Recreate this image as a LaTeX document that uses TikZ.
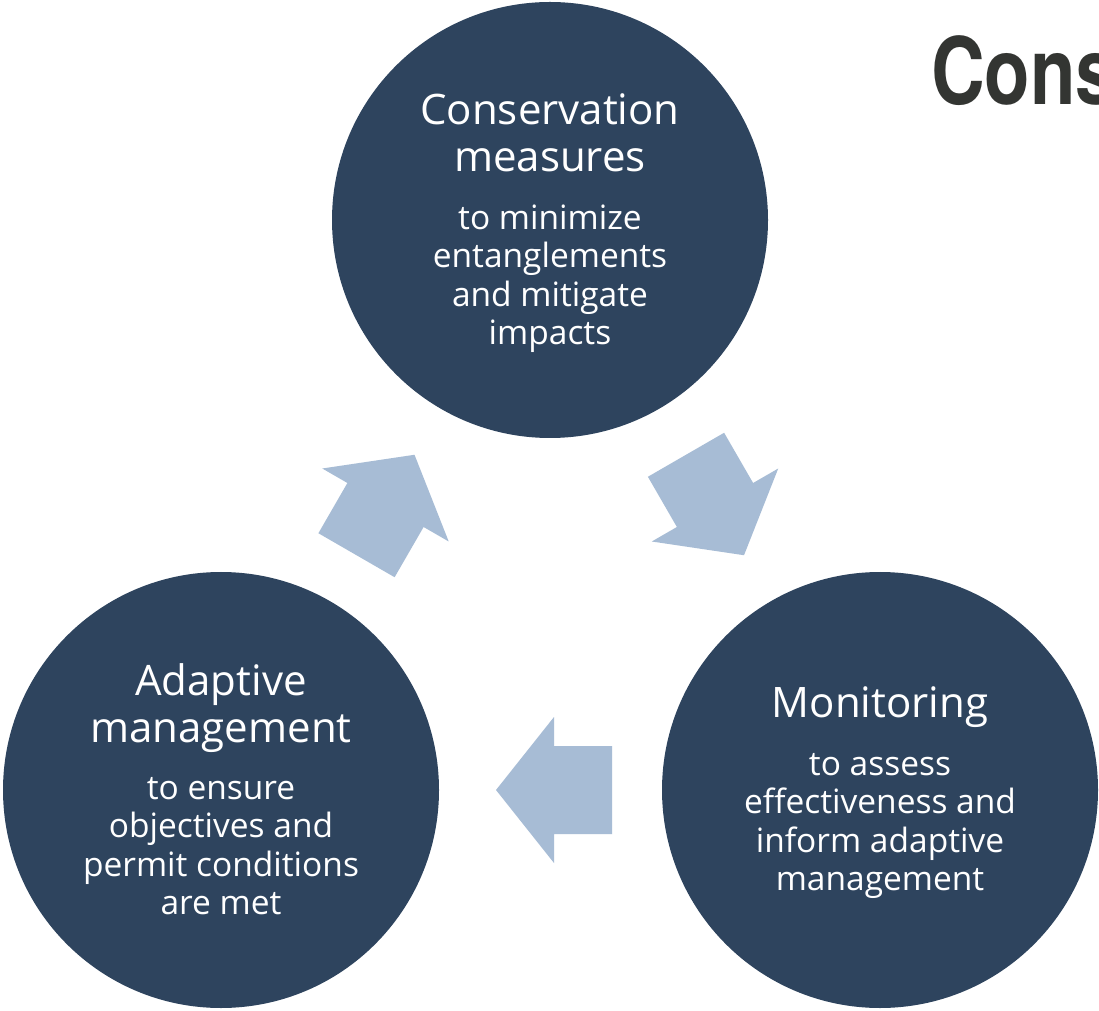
\documentclass[tikz,border=0pt]{standalone}
\usepackage{fontspec}
\setmainfont{Open Sans}
\newfontfamily\headfont{TeX Gyre Heros}
\usetikzlibrary{calc}
\definecolor{navy}{RGB}{46,68,94}
\definecolor{arrowblue}{RGB}{167,188,213}
\definecolor{headgrey}{RGB}{51,53,50}
\begin{document}
\begin{tikzpicture}[x=1pt,y=1pt,
  circ/.style={circle, fill=navy, minimum size=436pt, inner sep=0pt},
  ttl/.style={anchor=base, text=white, inner sep=0pt, font=\fontsize{42}{47}\selectfont},
  bdy/.style={anchor=base, text=white, inner sep=0pt, font=\fontsize{33.5}{38.3}\selectfont},
  blockarrow/.pic={\fill[arrowblue] (58,0) -- (0,73) -- (0,44) -- (-58,44) -- (-58,-44) -- (0,-44) -- (0,-73) -- cycle;}
]
\clip (0,0) rectangle (1099,1010);
\fill[white] (0,0) rectangle (1099,1010);
% circles
\node[circ] (cm) at (550,790) {};
\node[circ] (am) at (221,220) {};
\node[circ] (mo) at (880,220) {};
% texts
\node[ttl] (cmt) at ($(cm.center)+(0,95)$) {\begin{tabular}[t]{@{}c@{}}Conservation\\measures\end{tabular}};
\node[bdy] (cmb) at ($(cm.center)+(0,-9.5)$) {\begin{tabular}[t]{@{}c@{}}to minimize\\entanglements\\and mitigate\\impacts\end{tabular}};
\node[ttl] (amt) at ($(am.center)+(0,95)$) {\begin{tabular}[t]{@{}c@{}}Adaptive\\management\end{tabular}};
\node[bdy] (amb) at ($(am.center)+(0,-9.5)$) {\begin{tabular}[t]{@{}c@{}}to ensure\\objectives and\\permit conditions\\are met\end{tabular}};
\node[ttl] (mot) at ($(mo.center)+(0,73)$) {\begin{tabular}[t]{@{}c@{}}Monitoring\end{tabular}};
\node[bdy] (mob) at ($(mo.center)+(0,14.5)$) {\begin{tabular}[t]{@{}c@{}}to assess\\effectiveness and\\inform adaptive\\management\end{tabular}};
% block arrows
\pic[rotate=-60] at ($(cm)!0.5!(mo)$) {blockarrow};
\pic[rotate=180] at ($(mo)!0.5!(am)+(3.5,0)$) {blockarrow};
\pic[rotate=60] at ($(am)!0.5!(cm)$) {blockarrow};
% heading
\node[anchor=base west, inner sep=0pt, text=headgrey, font=\headfont\bfseries\fontsize{93}{100}\selectfont] (head) at (931,905) {\scalebox{0.8}[1]{Cons}};
\end{tikzpicture}
\end{document}
